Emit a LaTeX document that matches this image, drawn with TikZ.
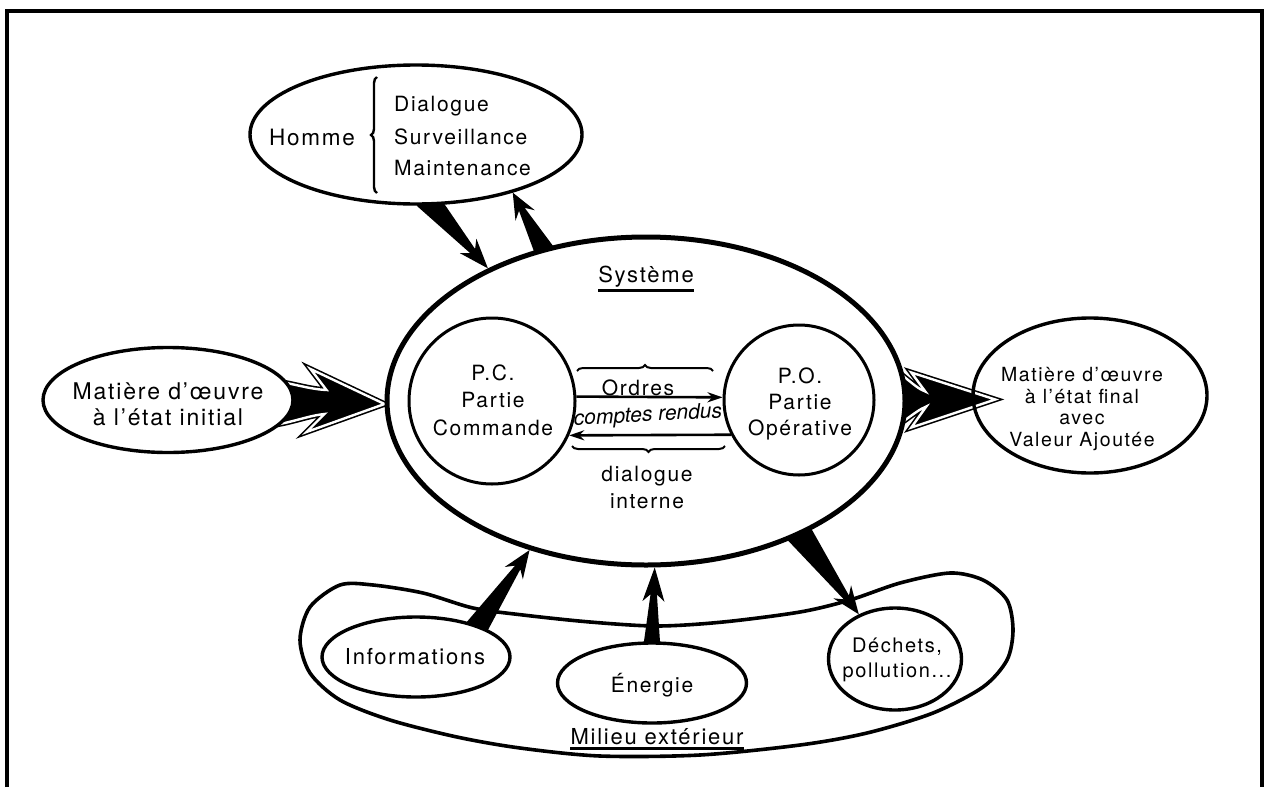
\documentclass[tikz,border=0pt]{standalone}
\usepackage{fontspec}
\setmainfont{TeX Gyre Heros}[LetterSpace=8]
\usepackage{tikz}
\usetikzlibrary{shapes.geometric,arrows.meta,calc,backgrounds,decorations.pathreplacing}

% tapered black arrow: from, to, half width at the base, head length
\newcommand\taperarrow[4]{%
    \coordinate (tp-b) at ($(#1)!-10pt!(#2)$);
    \coordinate (tp-k) at ($(#2)!#4!(#1)$);
    \coordinate (tp-n) at ($(tp-k)!7pt!(#2)$);
    \fill ($(tp-b)!#3!90:(#2)$) -- ($(tp-n)!3.2pt!90:(#2)$)
        -- ($(tp-k)!11pt!90:(#2)$) -- (#2)
        -- ($(tp-k)!11pt!-90:(#2)$) -- ($(tp-n)!3.2pt!-90:(#2)$)
        -- ($(tp-b)!#3!-90:(#2)$) -- cycle;
}

\begin{document}
\begin{tikzpicture}[
    x=1pt,
    y=-1pt,
    font=\fontsize{21}{27}\selectfont,
    bubble/.style={
        ellipse,
        draw,
        line width=3.4pt,
        fill=white,
        inner sep=0pt
    },
    part/.style={
        circle,
        draw,
        line width=3pt,
        fill=white,
        inner sep=0pt,
        minimum size=#1
    },
    lbl/.style={
        inner sep=0pt,
        align=center
    },
    flow/.style={
        line width=2.6pt,
        -{Stealth[length=15pt,width=10pt]}
    },
    curly/.style={
        line width=2pt,
        decorate,
        decoration={brace,amplitude=#1}
    },
    fat/.style={
        fill=black,
        draw=black,
        line width=1.6pt,
        double=white,
        double distance=2.4pt,
        line join=miter
    }
]

\useasboundingbox (0,0) rectangle (1266,787);

% frame, open at the bottom
\draw[line width=3.5pt] (7,787) -- (7,11) -- (1262,11) -- (1262,787);

% milieu exterieur
\draw[line width=3.6pt] plot[smooth cycle] coordinates {
    (300,640) (310,607) (340,585) (373,585) (423,593) (473,608)
    (523,615) (590,622) (657,626) (723,622) (800,612) (850,600)
    (900,583) (950,573) (983,580) (1007,600) (1013,630) (1007,660)
    (983,687) (933,713) (867,733) (800,745) (700,755) (600,756)
    (520,748) (457,737) (390,720) (340,700) (310,673)};

% the bubbles
\node[bubble, minimum width=332pt, minimum height=139pt] (hom) at (416,134.5) {};
\node[bubble, line width=5pt, minimum width=518pt, minimum height=328pt] (sys) at (646,401) {};
\node[bubble, minimum width=250pt, minimum height=105pt] (mi) at (168,400) {};
\node[bubble, fill=none, minimum width=234pt, minimum height=155pt] (fin) at (1090,395.5) {};
\node[bubble, minimum width=188pt, minimum height=80pt] (inf) at (416,657) {};
\node[bubble, minimum width=189pt, minimum height=80pt] (ene) at (652,683) {};
\node[bubble, minimum width=133pt, minimum height=102pt] (dec) at (895,659) {};

\node[part=166pt] (pc) at (492,401) {};
\node[part=150pt] (po) at (799,400) {};

% flows in and out of the system
\begin{scope}[on background layer]
    \taperarrow{hom.283}{sys.140}{12pt}{30pt}
    \taperarrow{sys.124}{hom.329}{11pt}{26pt}
    \taperarrow{inf.27}{sys.232}{12pt}{28pt}
    \taperarrow{ene.90}{sys.273}{9pt}{34pt}
    \taperarrow{sys.319}{dec.129}{14pt}{28pt}

    \filldraw[fat, shift={($(sys.west)+(0,3)$)}]
        (-125,-24) .. controls (-100,-24) and (-80,-15) .. (-58,-14)
        -- (-74,-35) -- (0,0) -- (-78,28) -- (-60,10)
        .. controls (-80,12) and (-100,22) .. (-125,22) -- cycle;
    \filldraw[fat, shift={($(fin.west)+(24,4)$)}]
        (-125,-45) .. controls (-95,-30) and (-82,-12) .. (-70,-8)
        -- (-84,-27) -- (0,0) -- (-84,28) -- (-69,7)
        .. controls (-82,12) and (-95,28) .. (-125,40) -- cycle;
\end{scope}

% internal dialogue
\draw[flow] (pc.3) -- (po.178);
\draw[flow] (po.207) -- (pc.336);
\draw[curly=6pt] (577,371) -- (713,371);
\draw[curly=6pt] (725,446) -- (572,446);
\draw[curly=6pt, line width=2.4pt] (377,193) -- (377,77);

% texts
\node[lbl, font=\fontsize{22.5}{27}\selectfont] (hom-t) at (312,137) {Homme};
\node[lbl, align=left, anchor=west, font=\fontsize{21}{32}\selectfont] (hom-l) at (394,136.5)
    {Dialogue\\Surveillance\\Maintenance};
\node[lbl, font=\fontsize{22}{27}\selectfont] (sys-t) at (646,277) {Système};
\draw[line width=2.8pt] ([yshift=-3pt]sys-t.south west) -- ([yshift=-3pt]sys-t.south east);
\node[lbl, font=\fontsize{21}{27.5}\selectfont] (pc-t) at (493,400) {P.C.\\Partie\\Commande};
\node[lbl, font=\fontsize{21}{26}\selectfont] (po-t) at (800,404) {P.O.\\Partie\\Opérative};
\node[lbl] (ord-t) at (638,388) {Ordres};
\node[lbl, rotate=3, font=\fontsize{21}{24}\selectfont\itshape\addfontfeatures{LetterSpace=0}]
    (cr-t) at (648,416) {comptes rendus};
\node[lbl, font=\fontsize{21}{27}\selectfont] (dlg-t) at (647,487) {dialogue\\interne};
\node[lbl, font=\fontsize{23}{26}\selectfont] (mi-t) at (168,404) {Matière d’œuvre\\à l’état initial};
\node[lbl, font=\fontsize{19.5}{21.7}\selectfont] (fin-t) at (1082,409)
    {Matière d’œuvre\\à l’état final\\avec\\Valeur Ajoutée};
\node[lbl, font=\fontsize{22}{27}\selectfont] (inf-t) at (415,657) {Informations};
\node[lbl] (ene-t) at (652,685) {Énergie};
\node[lbl, font=\fontsize{20}{25}\selectfont] (dec-t) at (897,660) {Déchets,\\pollution...};
\node[lbl, font=\fontsize{22}{27}\selectfont] (mil-t) at (657,737) {Milieu extérieur};
\draw[line width=2.8pt] ([yshift=-3pt]mil-t.south west) -- ([yshift=-3pt]mil-t.south east);

\end{tikzpicture}
\end{document}
